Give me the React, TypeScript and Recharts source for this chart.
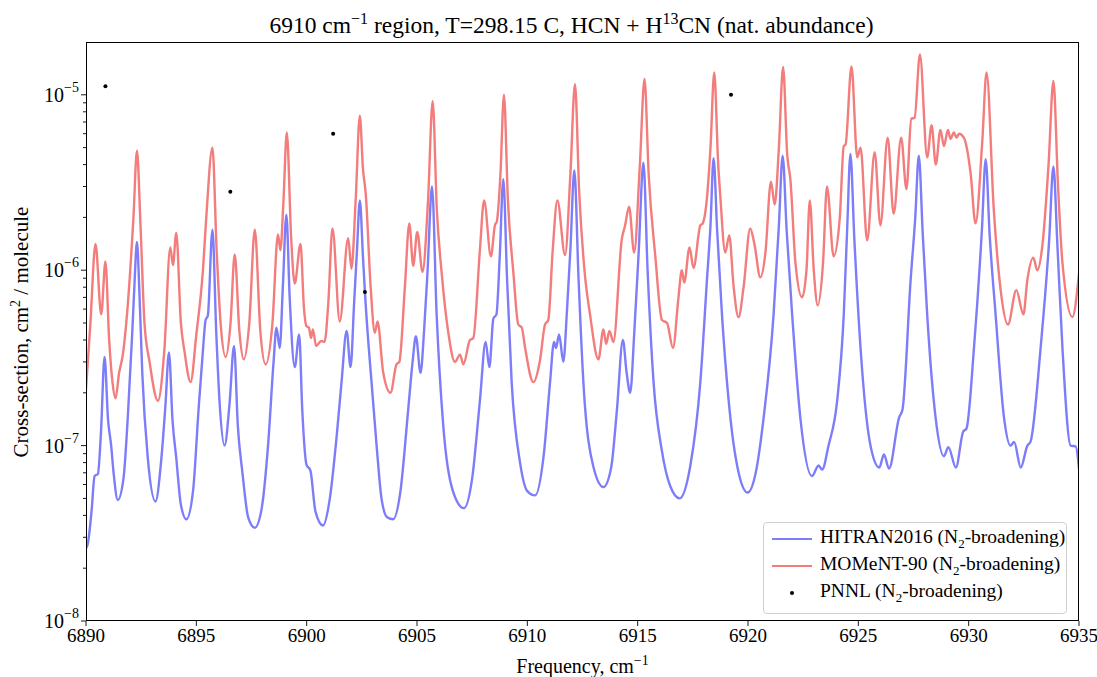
import { ComposedChart, Line, XAxis, YAxis } from "recharts";

// [frequency cm^-1, cross-section cm^2/molecule]
const hitranPoints: [number, number][] = [
  [6890.0, 2.6e-8], [6890.08, 2.75e-8], [6890.25, 4.2e-8], [6890.39, 6.7e-8], [6890.54, 6.9e-8],
  [6890.68, 1.2e-7], [6890.84, 3.2e-7], [6891.0, 1.4e-7], [6891.14, 1.0e-7], [6891.25, 7.0e-8],
  [6891.44, 4.9e-8], [6891.7, 6.5e-8], [6891.9, 1.5e-7], [6892.1, 4.5e-7], [6892.2, 8.5e-7],
  [6892.31, 1.45e-6], [6892.42, 7.5e-7], [6892.55, 2.6e-7], [6892.8, 8.5e-8], [6893.15, 4.8e-8],
  [6893.41, 8.3e-8], [6893.6, 1.7e-7], [6893.76, 3.4e-7], [6893.92, 1.4e-7], [6894.09, 8.5e-8],
  [6894.3, 4.6e-8], [6894.55, 3.8e-8], [6894.85, 5.5e-8], [6895.1, 1.6e-7], [6895.3, 3.5e-7],
  [6895.42, 5.2e-7], [6895.52, 5.5e-7], [6895.73, 1.7e-6], [6895.9, 4.5e-7], [6896.05, 1.8e-7],
  [6896.28, 1.0e-7], [6896.5, 1.7e-7], [6896.71, 3.7e-7], [6896.88, 1.3e-7], [6897.09, 7.0e-8],
  [6897.35, 3.9e-8], [6897.65, 3.4e-8], [6897.95, 4.3e-8], [6898.25, 1.0e-7], [6898.5, 3.0e-7],
  [6898.63, 4.7e-7], [6898.78, 3.6e-7], [6898.92, 8e-7], [6899.08, 2.07e-6], [6899.23, 7.0e-7],
  [6899.46, 2.8e-7], [6899.66, 4.3e-7], [6899.8, 1.6e-7], [6899.99, 7.8e-8], [6900.17, 7.2e-8],
  [6900.4, 4.2e-8], [6900.74, 3.5e-8], [6901.05, 5.0e-8], [6901.35, 1.1e-7], [6901.58, 2.3e-7],
  [6901.81, 4.5e-7], [6901.99, 2.8e-7], [6902.15, 6.5e-7], [6902.28, 1.3e-6], [6902.41, 2.5e-6],
  [6902.55, 1.2e-6], [6902.64, 7.5e-7], [6902.8, 3.8e-7], [6902.94, 2.3e-7], [6903.19, 9.3e-8],
  [6903.39, 5.0e-8], [6903.65, 3.9e-8], [6903.92, 3.8e-8], [6904.25, 5.5e-8], [6904.6, 1.6e-7],
  [6904.8, 3.0e-7], [6904.95, 4.2e-7], [6905.16, 2.6e-7], [6905.32, 4.5e-7], [6905.48, 1.0e-6],
  [6905.68, 3.0e-6], [6905.89, 5.6e-7], [6906.19, 1.3e-7], [6906.61, 5.6e-8], [6907.13, 4.4e-8],
  [6907.5, 6.5e-8], [6907.85, 1.8e-7], [6908.11, 3.9e-7], [6908.28, 2.8e-7], [6908.46, 5.3e-7],
  [6908.6, 5.6e-7], [6908.75, 1.2e-6], [6908.91, 3.3e-6], [6909.08, 9e-7], [6909.29, 2.3e-7],
  [6909.67, 8.0e-8], [6910.0, 5.5e-8], [6910.35, 5.2e-8], [6910.75, 9e-8], [6911.03, 2.3e-7],
  [6911.21, 3.9e-7], [6911.3, 3.6e-7], [6911.44, 4.3e-7], [6911.63, 3.0e-7], [6911.8, 6e-7],
  [6911.95, 1.3e-6], [6912.13, 3.7e-6], [6912.32, 9e-7], [6912.54, 2.3e-7], [6912.99, 7.6e-8],
  [6913.45, 5.8e-8], [6913.8, 7.5e-8], [6914.06, 1.6e-7], [6914.33, 4.0e-7], [6914.5, 2.6e-7],
  [6914.66, 2.0e-7], [6914.85, 4.5e-7], [6915.05, 1.3e-6], [6915.26, 4.1e-6], [6915.45, 1.0e-6],
  [6915.72, 2.3e-7], [6916.1, 9.3e-8], [6916.47, 5.9e-8], [6916.9, 5.0e-8], [6917.38, 7.6e-8],
  [6917.84, 2.3e-7], [6918.14, 8.8e-7], [6918.3, 1.8e-6], [6918.44, 4.35e-6], [6918.6, 1.7e-6],
  [6918.82, 5.6e-7], [6919.2, 1.45e-7], [6919.6, 6.8e-8], [6919.98, 5.4e-8], [6920.35, 7.0e-8],
  [6920.71, 1.45e-7], [6921.16, 5.6e-7], [6921.4, 1.8e-6], [6921.57, 4.5e-6], [6921.75, 1.7e-6],
  [6922.0, 5.6e-7], [6922.37, 1.45e-7], [6922.9, 6.7e-8], [6923.2, 7.7e-8], [6923.36, 7.3e-8],
  [6923.65, 1.0e-7], [6924.04, 1.8e-7], [6924.34, 5.6e-7], [6924.5, 1.8e-6], [6924.64, 4.6e-6],
  [6924.82, 1.5e-6], [6925.1, 3.6e-7], [6925.55, 1.0e-7], [6925.95, 7.5e-8], [6926.16, 8.9e-8],
  [6926.39, 7.4e-8], [6926.85, 1.45e-7], [6927.0, 1.6e-7], [6927.37, 8.8e-7], [6927.58, 2.0e-6],
  [6927.74, 4.5e-6], [6927.92, 1.6e-6], [6928.12, 5.6e-7], [6928.5, 1.45e-7], [6928.88, 8.7e-8],
  [6929.08, 9.8e-8], [6929.42, 7.5e-8], [6929.75, 1.2e-7], [6929.9, 1.25e-7], [6930.24, 3.6e-7],
  [6930.6, 1.7e-6], [6930.77, 4.3e-6], [6930.95, 1.6e-6], [6931.22, 5.6e-7], [6931.6, 1.45e-7],
  [6931.9, 1.0e-7], [6932.06, 1.05e-7], [6932.36, 7.5e-8], [6932.66, 1.0e-7], [6932.8, 1.05e-7],
  [6933.26, 3.6e-7], [6933.65, 1.5e-6], [6933.84, 3.9e-6], [6934.02, 1.4e-6], [6934.25, 3.6e-7],
  [6934.62, 1.0e-7], [6934.85, 9.9e-8], [6935.0, 7.4e-8],
];

const momentPoints: [number, number][] = [
  [6890.0, 2.1e-7], [6890.2, 5e-7], [6890.43, 1.41e-6], [6890.69, 5.6e-7], [6890.88, 1.12e-6],
  [6891.05, 4e-7], [6891.2, 2.3e-7], [6891.34, 1.86e-7], [6891.5, 2.6e-7], [6891.67, 3.3e-7],
  [6891.9, 6.5e-7], [6892.15, 2.0e-6], [6892.31, 4.8e-6], [6892.47, 1.8e-6], [6892.65, 5e-7],
  [6892.88, 3.0e-7], [6893.26, 1.8e-7], [6893.55, 3.5e-7], [6893.82, 1.35e-6], [6893.94, 1.07e-6],
  [6894.09, 1.63e-6], [6894.3, 5e-7], [6894.47, 3.4e-7], [6894.74, 2.3e-7], [6895.0, 4.3e-7],
  [6895.3, 1.0e-6], [6895.45, 2.0e-6], [6895.73, 5.0e-6], [6895.92, 1.3e-6], [6896.1, 5e-7],
  [6896.33, 3.2e-7], [6896.55, 5e-7], [6896.74, 1.23e-6], [6896.95, 4.5e-7], [6897.15, 3.1e-7],
  [6897.4, 5e-7], [6897.65, 1.7e-6], [6897.9, 4.5e-7], [6898.14, 2.9e-7], [6898.45, 5e-7],
  [6898.7, 1.6e-6], [6898.81, 1.3e-6], [6898.95, 2.5e-6], [6899.1, 6.1e-6], [6899.3, 1.5e-6],
  [6899.46, 8.4e-7], [6899.72, 1.41e-6], [6899.88, 6e-7], [6899.99, 4.8e-7], [6900.1, 4.7e-7],
  [6900.2, 4.1e-7], [6900.28, 4.6e-7], [6900.43, 3.7e-7], [6900.66, 3.95e-7], [6900.81, 3.9e-7],
  [6900.98, 6.5e-7], [6901.17, 1.73e-6], [6901.5, 5.1e-7], [6901.88, 1.52e-6], [6902.03, 1.02e-6],
  [6902.22, 2.5e-6], [6902.41, 7.6e-6], [6902.55, 3.8e-6], [6902.68, 2.7e-6], [6902.9, 8e-7],
  [6903.09, 4.4e-7], [6903.21, 5.1e-7], [6903.47, 2.6e-7], [6903.8, 2.0e-7], [6904.07, 2.9e-7],
  [6904.2, 3.0e-7], [6904.45, 8e-7], [6904.65, 1.85e-6], [6904.83, 1.06e-6], [6905.01, 1.65e-6],
  [6905.25, 9.8e-7], [6905.5, 2.5e-6], [6905.71, 9.2e-6], [6905.9, 2.2e-6], [6906.12, 9.6e-7],
  [6906.42, 4.4e-7], [6906.72, 3.0e-7], [6906.95, 3.3e-7], [6907.1, 2.9e-7], [6907.4, 4.0e-7],
  [6907.55, 4.1e-7], [6907.85, 1.3e-6], [6908.04, 2.5e-6], [6908.35, 1.2e-6], [6908.53, 1.8e-6],
  [6908.62, 1.9e-6], [6908.78, 3.5e-6], [6908.94, 1.0e-5], [6909.12, 2.5e-6], [6909.37, 9.6e-7],
  [6909.59, 4.9e-7], [6909.75, 4.7e-7], [6909.9, 3.6e-7], [6910.27, 2.3e-7], [6910.58, 3.1e-7],
  [6910.8, 4.9e-7], [6910.95, 5.2e-7], [6911.15, 1.3e-6], [6911.36, 2.5e-6], [6911.71, 1.22e-6],
  [6911.95, 3.5e-6], [6912.16, 1.15e-5], [6912.35, 2.8e-6], [6912.62, 9.1e-7], [6912.84, 5.6e-7],
  [6913.22, 3.1e-7], [6913.45, 4.6e-7], [6913.57, 3.8e-7], [6913.72, 4.5e-7], [6913.9, 3.9e-7],
  [6914.28, 1.5e-6], [6914.43, 1.8e-6], [6914.61, 2.3e-6], [6914.84, 1.26e-6], [6915.1, 4e-6],
  [6915.31, 1.23e-5], [6915.5, 3.5e-6], [6915.8, 1.2e-6], [6916.1, 5.2e-7], [6916.33, 5.0e-7],
  [6916.6, 3.6e-7], [6916.85, 7e-7], [6917.0, 1.0e-6], [6917.11, 8.5e-7], [6917.35, 1.35e-6],
  [6917.53, 1.03e-6], [6917.84, 1.8e-6], [6917.95, 1.85e-6], [6918.11, 2.37e-6], [6918.3, 5e-6],
  [6918.47, 1.34e-5], [6918.65, 4e-6], [6918.74, 2.7e-6], [6918.97, 1.26e-6], [6919.15, 1.58e-6],
  [6919.35, 8.0e-7], [6919.57, 5.4e-7], [6919.8, 8.0e-7], [6920.1, 1.73e-6], [6920.29, 1.41e-6],
  [6920.56, 9.1e-7], [6920.79, 1.26e-6], [6921.04, 3.2e-6], [6921.21, 2.37e-6], [6921.4, 5e-6],
  [6921.59, 1.44e-5], [6921.78, 4.5e-6], [6921.92, 3.3e-6], [6922.15, 1.1e-6], [6922.45, 7.0e-7],
  [6922.65, 1.0e-6], [6922.8, 2.5e-6], [6922.98, 1.0e-6], [6923.16, 6.3e-7], [6923.4, 1.1e-6],
  [6923.58, 3.0e-6], [6923.88, 1.2e-6], [6924.16, 2.0e-6], [6924.34, 5.1e-6], [6924.42, 5.2e-6],
  [6924.69, 1.45e-5], [6924.95, 4.4e-6], [6925.1, 5.0e-6], [6925.4, 1.48e-6], [6925.74, 4.7e-6],
  [6926.0, 1.8e-6], [6926.33, 5.7e-6], [6926.6, 2.1e-6], [6926.94, 5.7e-6], [6927.18, 2.9e-6],
  [6927.4, 7.3e-6], [6927.55, 7.4e-6], [6927.79, 1.7e-5], [6928.12, 4.4e-6], [6928.32, 6.7e-6],
  [6928.51, 4.0e-6], [6928.72, 6.3e-6], [6928.88, 5.1e-6], [6929.06, 6.3e-6], [6929.18, 5.6e-6],
  [6929.33, 6.1e-6], [6929.45, 5.7e-6], [6929.56, 6.0e-6], [6929.78, 5.7e-6], [6930.09, 3.55e-6],
  [6930.31, 1.85e-6], [6930.62, 5.5e-6], [6930.81, 1.34e-5], [6931.14, 2.2e-6], [6931.45, 7.7e-7],
  [6931.78, 4.9e-7], [6932.16, 7.7e-7], [6932.48, 5.6e-7], [6932.66, 8.8e-7], [6932.93, 1.18e-6],
  [6933.11, 1.0e-6], [6933.34, 1.38e-6], [6933.62, 4e-6], [6933.84, 1.2e-5], [6934.05, 3e-6],
  [6934.25, 1.1e-6], [6934.7, 5.4e-7], [6935.0, 9.6e-7],
];

const pnnlPoints: [number, number][] = [
  [6890.88, 1.12e-5], [6896.54, 2.8e-6], [6901.2, 6.0e-6], [6902.64, 7.5e-7], [6919.23, 1.0e-5],
];

const xTicks = [6890, 6895, 6900, 6905, 6910, 6915, 6920, 6925, 6930, 6935];
const yMajor = [1e-8, 1e-7, 1e-6, 1e-5];
const yTicks = [
  ...yMajor,
  ...[1e-8, 1e-7, 1e-6].flatMap((d) => [2, 3, 4, 5, 6, 7, 8, 9].map((m) => m * d)),
];

const toRows = (pts: [number, number][]) => pts.map(([f, v]) => ({ f, v }));

const BLUE = "#7d7dfa";
const RED = "#f37c7c";
const FONT = '"Liberation Serif", "DejaVu Serif", serif';

function YTick({ x, y, payload }: any) {
  const v = payload.value;
  const e = Math.round(Math.log10(v));
  const major = Math.abs(v / Math.pow(10, e) - 1) < 1e-6;
  return (
    <g>
      <line x1={x - (major ? 5 : 3)} x2={x} y1={y} y2={y} stroke="#000" strokeWidth={0.9} />
      {major && (
        <text x={x - 7} y={y + 7} textAnchor="end" fontSize={20} fontFamily={FONT} fill="#000">
          10<tspan dy={-10} fontSize={14}>{"\u2212" + -e}</tspan>
        </text>
      )}
    </g>
  );
}

function XTick({ x, y, payload }: any) {
  return (
    <g>
      <line x1={x} x2={x} y1={y} y2={y + 5} stroke="#000" strokeWidth={0.9} />
      <text x={x} y={y + 21} textAnchor="middle" fontSize={19} fontFamily={FONT} fill="#000">
        {payload.value}
      </text>
    </g>
  );
}

export default function App() {
  return (
    <div
      style={{
        position: "absolute", left: 0, top: 0, width: 1097, height: 677,
        background: "#fff", fontFamily: FONT, color: "#000",
      }}
    >
      <ComposedChart width={1097} height={677} margin={{ top: 42, right: 18, bottom: 0, left: 0 }}>
        <XAxis
          dataKey="f" type="number" domain={[6890, 6935]} ticks={xTicks} interval={0}
          height={56} tickSize={0} tickMargin={0} tickLine={false} axisLine={false}
          tick={<XTick />} allowDataOverflow
        />
        <YAxis
          type="number" scale="log" domain={[1e-8, 2e-5]} ticks={yTicks} interval={0}
          width={86} tickSize={0} tickMargin={0} tickLine={false} axisLine={false}
          tick={<YTick />} allowDataOverflow
        />
        <Line
          data={toRows(hitranPoints)} dataKey="v" type="monotone" stroke={BLUE}
          strokeWidth={2.4} dot={false} isAnimationActive={false}
        />
        <Line
          data={toRows(momentPoints)} dataKey="v" type="monotone" stroke={RED}
          strokeWidth={2.4} dot={false} isAnimationActive={false}
        />
        <Line
          data={toRows(pnnlPoints)} dataKey="v" stroke="none" strokeWidth={0}
          dot={{ r: 2, fill: "#000", stroke: "none" }} isAnimationActive={false}
        />
      </ComposedChart>

      {/* axes frame */}
      <div
        style={{
          position: "absolute", left: 86, top: 42, width: 993, height: 579,
          border: "1px solid #000", boxSizing: "border-box", pointerEvents: "none",
        }}
      />

      {/* title */}
      <div
        style={{
          position: "absolute", left: 75, width: 993, top: 5, textAlign: "center",
          fontSize: 23.5, lineHeight: "28px", whiteSpace: "nowrap",
        }}
      >
        6910 cm<sup style={{ fontSize: 16 }}>−1</sup> region, T=298.15 C, HCN + H
        <sup style={{ fontSize: 16 }}>13</sup>CN (nat. abundance)
      </div>

      {/* x label */}
      <div
        style={{
          position: "absolute", left: 86, width: 993, top: 649, textAlign: "center",
          fontSize: 20, lineHeight: "24px",
        }}
      >
        Frequency, cm<sup style={{ fontSize: 14 }}>−1</sup>
      </div>

      {/* y label */}
      <div style={{ position: "absolute", left: 18, top: 332, width: 0, height: 0 }}>
        <div
          style={{
            position: "absolute", transform: "translate(-50%, -50%) rotate(-90deg)",
            whiteSpace: "nowrap", fontSize: 21, lineHeight: "24px",
          }}
        >
          Cross-section, cm<sup style={{ fontSize: 14 }}>2</sup> / molecule
        </div>
      </div>

      {/* legend */}
      <div
        style={{
          position: "absolute", left: 763, top: 522, width: 304, height: 92,
          border: "1px solid #d0d0d0", borderRadius: 4, background: "rgba(255,255,255,0.85)",
          boxSizing: "border-box", fontSize: 19.5,
        }}
      >
        {[
          { label: "HITRAN2016", color: BLUE, dot: false },
          { label: "MOMeNT-90", color: RED, dot: false },
          { label: "PNNL", color: "#000", dot: true },
        ].map((e, i) => (
          <div
            key={e.label}
            style={{ position: "absolute", left: 8, top: 5 + i * 27, height: 22, display: "flex", alignItems: "center" }}
          >
            <div style={{ width: 40, display: "flex", justifyContent: "center", marginRight: 8 }}>
              {e.dot ? (
                <div style={{ width: 4, height: 4, borderRadius: 2, background: "#000" }} />
              ) : (
                <div style={{ width: 40, height: 2.4, background: e.color }} />
              )}
            </div>
            <span style={{ whiteSpace: "nowrap" }}>
              {e.label} (N<sub style={{ fontSize: 13 }}>2</sub>-broadening)
            </span>
          </div>
        ))}
      </div>
    </div>
  );
}
